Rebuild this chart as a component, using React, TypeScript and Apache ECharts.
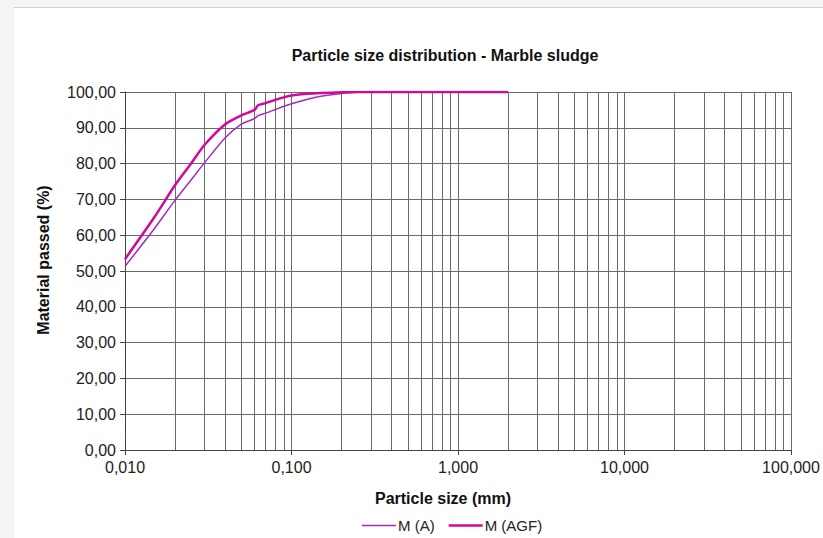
import React, { useEffect, useRef } from "react";
import * as echarts from "echarts";

const sizes = [0.01, 0.015, 0.02, 0.025, 0.03, 0.04, 0.05, 0.06, 0.063, 0.07, 0.08, 0.09, 0.1, 0.125, 0.15, 0.2, 0.25, 0.3, 0.5, 1, 2];
const passedA = [51.3, 61.8, 69.8, 75.5, 80.2, 87.2, 91.0, 92.6, 93.4, 94.1, 95.1, 96.0, 96.7, 98.0, 98.8, 99.6, 99.9, 100, 100, 100, 100];
const passedAGF = [53.3, 65.0, 74.0, 80.1, 85.2, 91.0, 93.5, 95.0, 96.3, 96.9, 97.8, 98.5, 99.0, 99.5, 99.7, 99.9, 100, 100, 100, 100, 100];
const seriesNames = ["M (A)", "M (AGF)"];
const minorGridValues = [
  0.02, 0.03, 0.04, 0.05, 0.06, 0.07, 0.08, 0.09,
  0.2, 0.3, 0.4, 0.5, 0.6, 0.7, 0.8, 0.9,
  2, 3, 4, 5, 6, 7, 8, 9,
  20, 30, 40, 50, 60, 70, 80, 90,
];

const FONT = "'Liberation Sans', Arial, sans-serif";
const GRID = "#6a6a6a";
const COLOR_A = "#a42bc2";
const COLOR_AGF = "#d1089a";

export default function App() {
  const ref = useRef<HTMLDivElement>(null);
  useEffect(() => {
    if (!ref.current) return;
    const chart = echarts.init(ref.current, null, { renderer: "svg" });
    chart.setOption({
      animation: false,
      backgroundColor: "#ffffff",
      textStyle: { fontFamily: FONT },
      graphic: [
        { type: "rect", shape: { x: 0, y: 0, width: 823, height: 7 }, style: { fill: "#f5f5f5" }, silent: true },
        { type: "rect", shape: { x: 0, y: 0, width: 14, height: 538 }, style: { fill: "#f5f5f5" }, silent: true },
        { type: "line", shape: { x1: 14, y1: 7.5, x2: 823, y2: 7.5 }, style: { stroke: "#cfcfcf", lineWidth: 1 }, silent: true },
      ],
      title: {
        text: "Particle size distribution - Marble sludge",
        left: 440,
        top: 42,
        textAlign: "center",
        textStyle: { fontFamily: FONT, fontSize: 16, fontWeight: "bold", color: "#111" },
      },
      legend: {
        left: 357,
        top: 513,
        itemWidth: 34,
        itemHeight: 14,
        itemGap: 14,
        textStyle: { fontFamily: FONT, fontSize: 15, color: "#222", padding: [0, 0, 0, -3] },
        data: [
          { name: seriesNames[0], icon: "path://M0,0H34V1.5H0Z", itemStyle: { color: COLOR_A } },
          { name: seriesNames[1], icon: "path://M0,0H34V2.6H0Z", itemStyle: { color: COLOR_AGF } },
        ],
      },
      grid: { left: 125, right: 32, top: 92, bottom: 88, containLabel: false },
      xAxis: {
        type: "log",
        logBase: 10,
        min: 0.01,
        max: 100,
        name: "Particle size (mm)",
        nameLocation: "middle",
        nameGap: 40,
        nameTextStyle: { fontFamily: FONT, fontSize: 16, fontWeight: "bold", color: "#111", padding: [0, 30, 0, 0] },
        axisLine: { show: true, lineStyle: { color: "#444", width: 1 } },
        axisTick: { show: true, length: 5, lineStyle: { color: "#444" } },
        axisLabel: {
          fontFamily: FONT,
          fontSize: 16,
          color: "#222",
          margin: 9,
          formatter: (v: number) => v.toFixed(3).replace(".", ","),
        },
        splitLine: { show: true, lineStyle: { color: GRID, width: 1 } },
      },
      yAxis: {
        type: "value",
        min: 0,
        max: 100,
        interval: 10,
        name: "Material passed (%)",
        nameLocation: "middle",
        nameGap: 74,
        nameRotate: 90,
        nameTextStyle: { fontFamily: FONT, fontSize: 16, fontWeight: "bold", color: "#111", padding: [0, 0, 0, 22] },
        axisLine: { show: true, lineStyle: { color: "#444", width: 1 } },
        axisTick: { show: true, length: 5, lineStyle: { color: "#444" } },
        axisLabel: {
          fontFamily: FONT,
          fontSize: 16,
          color: "#222",
          margin: 9,
          formatter: (v: number) => v.toFixed(2).replace(".", ","),
        },
        splitLine: { show: true, lineStyle: { color: GRID, width: 1 } },
      },
      series: [
        {
          name: seriesNames[0],
          type: "line",
          data: sizes.map((s, i) => [s, passedA[i]]),
          showSymbol: false,
          symbol: "none",
          smooth: 0.25,
          lineStyle: { color: COLOR_A, width: 1.5 },
          itemStyle: { color: COLOR_A },
          z: 3,
          markLine: {
            silent: true,
            symbol: "none",
            label: { show: false },
            lineStyle: { color: GRID, width: 1, type: "solid" },
            data: minorGridValues.map((v) => ({ xAxis: v })),
            z: 1,
          },
        },
        {
          name: seriesNames[1],
          type: "line",
          data: sizes.map((s, i) => [s, passedAGF[i]]),
          showSymbol: false,
          symbol: "none",
          smooth: 0.25,
          lineStyle: { color: COLOR_AGF, width: 2.5 },
          itemStyle: { color: COLOR_AGF },
          z: 4,
        },
      ],
    });
    return () => chart.dispose();
  }, []);
  return (
    <div
      ref={ref}
      style={{ position: "fixed", left: 0, top: 0, width: 823, height: 538 }}
    />
  );
}
